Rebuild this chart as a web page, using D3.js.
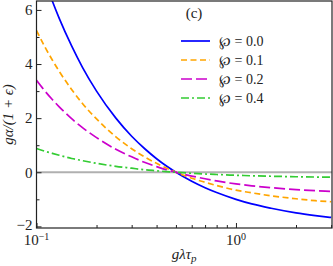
<!DOCTYPE html>
<html>
<head>
<meta charset="utf-8">
<script src="https://cdn.jsdelivr.net/npm/d3@7"></script>
<style>
  body { margin: 0; background: #fff; }
  svg text { font-family: "Liberation Serif", "Times New Roman", "DejaVu Serif", Times, serif !important; }
</style>
</head>
<body>
<div id="chart"></div>
<script>
// sampled x positions (g lambda tau_p)
var xs = [0.1, 0.11, 0.12, 0.13, 0.15, 0.17, 0.2, 0.25, 0.3, 0.35, 0.4, 0.45, 0.5, 0.6, 0.7, 0.8, 1, 1.2, 1.5, 2, 2.5, 3];

// values
var phi00 = [8.0, 7.09, 6.33, 5.69, 4.67, 3.88, 3.0, 2.0, 1.33, 0.86, 0.5, 0.22, 0, -0.33, -0.57, -0.75, -1.0, -1.17, -1.33, -1.5, -1.6, -1.67];
var phi01 = [5.24, 4.64, 4.15, 3.73, 3.06, 2.54, 1.97, 1.31, 0.87, 0.56, 0.33, 0.15, 0, -0.22, -0.37, -0.49, -0.66, -0.76, -0.87, -0.98, -1.05, -1.09];
var phi02 = [3.4, 3.01, 2.69, 2.42, 1.98, 1.65, 1.28, 0.85, 0.57, 0.36, 0.21, 0.09, 0, -0.14, -0.24, -0.32, -0.43, -0.50, -0.57, -0.64, -0.68, -0.71];
var phi04 = [0.88, 0.78, 0.70, 0.63, 0.51, 0.43, 0.33, 0.22, 0.15, 0.09, 0.055, 0.024, 0, -0.037, -0.063, -0.083, -0.11, -0.13, -0.147, -0.165, -0.176, -0.183];

var seriesNames = ["\u2118 = 0.0", "\u2118 = 0.1", "\u2118 = 0.2", "\u2118 = 0.4"];
var seriesValues = [phi00, phi01, phi02, phi04];
var seriesColors = ["#0000ff", "#ffa500", "#cc00cc", "#33cc33"];
var seriesDash = [null, "6,3.5", "11,4", "8,3,2,3"];

var yTicks = [-2, 0, 2, 4, 6];
var yMinor = [-1, 1, 3, 5];
var xMinor = [0.2, 0.3, 0.4, 0.5, 0.6, 0.7, 0.8, 0.9, 2, 3];

var W = 333, H = 266;
var margin = {top: 1, right: 1, bottom: 38, left: 36.5};
var width = W - margin.left - margin.right,
    height = H - margin.top - margin.bottom;

var svg = d3.select("#chart").append("svg")
    .attr("width", W).attr("height", H);
var g = svg.append("g")
    .attr("transform", "translate(" + margin.left + "," + margin.top + ")");

var x = d3.scaleLog().domain([0.1, 3.03]).range([0, width]);
var y = d3.scaleLinear().domain([-2.06, 6.33]).range([height, 0]);

g.append("clipPath").attr("id", "clip")
  .append("rect").attr("width", width).attr("height", height);

// zero line
g.append("line")
    .attr("x1", 0).attr("x2", width)
    .attr("y1", y(0)).attr("y2", y(0))
    .attr("stroke", "#b0b0b0").attr("stroke-width", 2);

var line = d3.line()
    .x(function(d) { return x(d[0]); })
    .y(function(d) { return y(d[1]); })
    .curve(d3.curveMonotoneX);

var curves = g.append("g").attr("clip-path", "url(#clip)");
seriesValues.forEach(function(vals, i) {
    curves.append("path")
        .datum(xs.map(function(v, j) { return [v, vals[j]]; }))
        .attr("fill", "none")
        .attr("stroke", seriesColors[i])
        .attr("stroke-width", 1.7)
        .attr("stroke-dasharray", seriesDash[i])
        .attr("d", line);
});

// axes with inward ticks
var yAxis = g.append("g")
    .call(d3.axisLeft(y).tickValues(yTicks).tickSize(-5).tickPadding(4).tickFormat(function(d) { return d < 0 ? "\u2212" + Math.abs(d) : d; }));
yAxis.select(".domain").remove();
yAxis.selectAll("text").attr("font-size", 15).attr("fill", "#222");
yAxis.selectAll(".tick text").filter(function(d) { return d === -2; }).attr("dy", "0.2em");
yAxis.selectAll("line").attr("stroke", "#222");
g.append("g")
    .call(d3.axisLeft(y).tickValues(yMinor).tickSize(-3).tickFormat(""))
    .call(function(s) { s.select(".domain").remove(); s.selectAll("line").attr("stroke", "#222"); });

var xAxis = g.append("g")
    .attr("transform", "translate(0," + height + ")")
    .call(d3.axisBottom(x).tickValues([0.1, 1]).tickSize(-5).tickFormat(""));
xAxis.select(".domain").remove();
xAxis.selectAll("line").attr("stroke", "#222");
g.append("g")
    .attr("transform", "translate(0," + height + ")")
    .call(d3.axisBottom(x).tickValues(xMinor).tickSize(-3).tickFormat(""))
    .call(function(s) { s.select(".domain").remove(); s.selectAll("line").attr("stroke", "#222"); });

// x tick labels 10^-1, 10^0
[[0.1, "\u22121"], [1, "0"]].forEach(function(t) {
    var txt = g.append("text")
        .attr("x", x(t[0]))
        .attr("y", height + 17)
        .attr("text-anchor", "middle")
        .attr("fill", "#222")
        .attr("font-size", 15);
    txt.append("tspan").text("10");
    txt.append("tspan").attr("dy", -5).attr("font-size", 10).text(t[1]);
});

// frame
g.append("rect")
    .attr("width", width).attr("height", height)
    .attr("fill", "none").attr("stroke", "#222").attr("stroke-width", 1.2);

// axis labels
svg.append("text")
    .attr("x", margin.left + x(0.55))
    .attr("y", 259)
    .attr("text-anchor", "middle")
    .attr("font-size", 15)
    .attr("font-style", "italic")
    .attr("fill", "#222")
    .html('g\u03bb\u03c4<tspan dy="3" font-size="11">p</tspan>');

svg.append("text")
    .attr("transform", "translate(13," + (margin.top + height / 2) + ") rotate(-90)")
    .attr("text-anchor", "middle")
    .attr("font-size", 15)
    .attr("font-style", "italic")
    .attr("fill", "#222")
    .text("g\u03b1/(1 + \u03f5)");

// panel label
svg.append("text")
    .attr("x", 194).attr("y", 18)
    .attr("text-anchor", "middle")
    .attr("font-size", 15)
    .attr("fill", "#222")
    .text("(c)");

// legend
var legend = svg.append("g");
seriesNames.forEach(function(name, i) {
    var ly = 41 + i * 19;
    legend.append("line")
        .attr("x1", 181).attr("x2", 210)
        .attr("y1", ly).attr("y2", ly)
        .attr("stroke", seriesColors[i])
        .attr("stroke-width", 1.7)
        .attr("stroke-dasharray", seriesDash[i]);
    legend.append("text")
        .attr("x", 219).attr("y", ly + 4.5)
        .attr("font-size", 14)
        .attr("fill", "#222")
        .text(name);
});
</script>
</body>
</html>
